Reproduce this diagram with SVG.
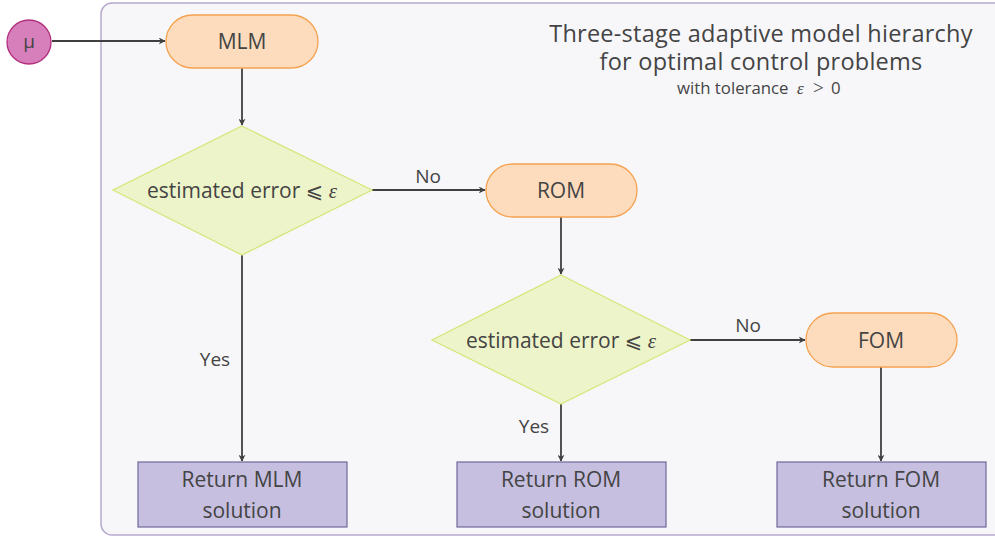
<svg xmlns="http://www.w3.org/2000/svg" width="995" height="537" viewBox="0 0 995 537">
  <style>
    text { font-family: "Open Sans", "Noto Sans", "DejaVu Sans", sans-serif; fill: #444; text-anchor: middle; }
    .pill { fill: #fddcbe; stroke: #f5a24f; stroke-width: 1.3; }
    .diamond { fill: #eef4c9; stroke: #d6e67c; stroke-width: 1.3; }
    .ret { fill: #c6bfe0; stroke: #6e6a98; stroke-width: 1.2; }
    .lbl { font-size: 21px; }
    .head { font-size: 23.5px; letter-spacing: 0.25px; }
    .math { font-family: "Liberation Serif", "DejaVu Serif", serif; }
    .edge { stroke: #404040; stroke-width: 1.8; fill: none; marker-end: url(#arrow); }
  </style>
  <defs>
    <marker id="arrow" viewBox="0 0 10 10" refX="9" refY="5" markerWidth="7" markerHeight="7" orient="auto" markerUnits="userSpaceOnUse">
      <path d="M0,0 L10,5 L0,10 L3,5 Z" fill="#404040"/>
    </marker>
  </defs>

  <rect width="995" height="537" fill="#ffffff"/>
  <!-- framed panel -->
  <rect id="panel" x="101" y="3" width="910" height="532" rx="11" fill="#f7f7fa" stroke="#b8aacb" stroke-width="1.5"/>

  <!-- title -->
  <g id="title">
    <text class="head" x="761" y="42">Three-stage adaptive model hierarchy</text>
    <text class="head" x="761" y="70">for optimal control problems</text>
    <text x="677" y="94" style="font-size:16.8px; text-anchor:start">with tolerance<tspan class="math" x="797" font-style="italic" font-size="17px">ε</tspan><tspan class="math" x="813" font-size="19px">&gt;</tspan><tspan x="831">0</tspan></text>
  </g>

  <g id="connectors">
    <line class="edge" x1="52" y1="41" x2="165" y2="41"/>
    <line class="edge" x1="242" y1="68" x2="242" y2="125"/>
    <line class="edge" x1="372" y1="190" x2="485" y2="190"/>
    <line class="edge" x1="561" y1="217" x2="561" y2="274"/>
    <line class="edge" x1="690" y1="340" x2="805" y2="340"/>
    <line class="edge" x1="881" y1="367" x2="881" y2="461"/>
    <line class="edge" x1="242" y1="255" x2="242" y2="461"/>
    <line class="edge" x1="561" y1="404" x2="561" y2="461"/>
    <text class="lbl" x="428" y="183" style="font-size:19px">No</text>
    <text class="lbl" x="748" y="332" style="font-size:19px">No</text>
    <text class="lbl" x="215" y="366" style="font-size:19px">Yes</text>
    <text class="lbl" x="534" y="433" style="font-size:19px">Yes</text>
  </g>

  <g id="mu">
    <circle cx="29" cy="42" r="22" fill="#d67fba" stroke="#b3307f" stroke-width="1.3"/>
    <text x="29" y="48" style="font-size:19px">μ</text>
  </g>

  <g id="mlm">
    <rect class="pill" x="166" y="15" width="152" height="53" rx="26.5"/>
    <text class="lbl" x="242" y="49">MLM</text>
  </g>

  <g id="check1">
    <polygon class="diamond" points="242,126 372,190 242,255 113,190"/>
    <text class="lbl" x="242" y="198">estimated error ⩽ <tspan class="math" font-style="italic">ε</tspan></text>
  </g>

  <g id="rom">
    <rect class="pill" x="486" y="164" width="151" height="53" rx="26.5"/>
    <text class="lbl" x="561" y="198">ROM</text>
  </g>

  <g id="check2">
    <polygon class="diamond" points="561,275 690,340 561,404 432,340"/>
    <text class="lbl" x="561" y="348">estimated error ⩽ <tspan class="math" font-style="italic">ε</tspan></text>
  </g>

  <g id="fom">
    <rect class="pill" x="806" y="313" width="151" height="54" rx="27"/>
    <text class="lbl" x="881" y="348">FOM</text>
  </g>

  <g id="ret-mlm">
    <rect class="ret" x="138" y="462" width="209" height="65"/>
    <text class="lbl" x="242" y="487">Return MLM</text>
    <text class="lbl" x="242" y="518">solution</text>
  </g>

  <g id="ret-rom">
    <rect class="ret" x="457" y="462" width="209" height="65"/>
    <text class="lbl" x="561" y="487">Return ROM</text>
    <text class="lbl" x="561" y="518">solution</text>
  </g>

  <g id="ret-fom">
    <rect class="ret" x="777" y="462" width="209" height="65"/>
    <text class="lbl" x="881" y="487">Return FOM</text>
    <text class="lbl" x="881" y="518">solution</text>
  </g>
</svg>
